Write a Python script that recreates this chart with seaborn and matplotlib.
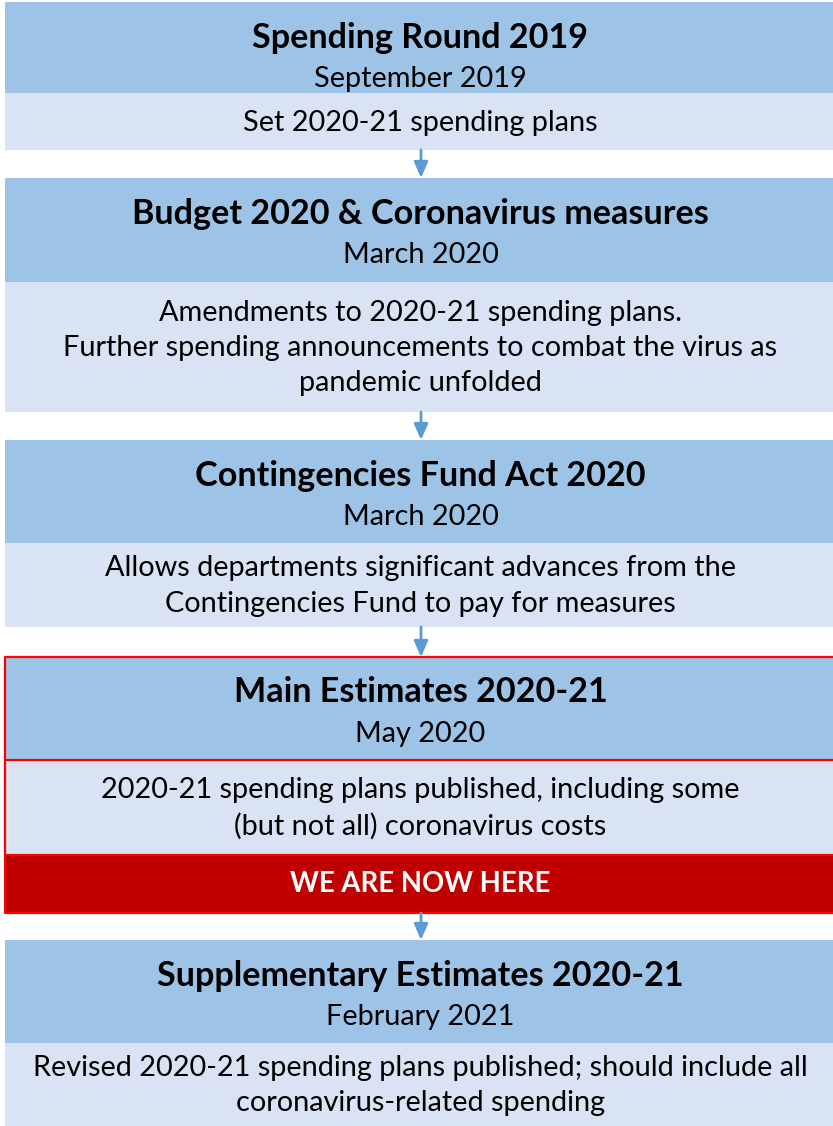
import matplotlib
matplotlib.use("Agg")
import matplotlib.pyplot as plt
from matplotlib.patches import Rectangle
import seaborn as sns

sns.set_theme(style="white")
plt.rcParams["font.family"] = ["Lato", "DejaVu Sans"]

# flowchart content
titles = ["Spending Round 2019", "Budget 2020 & Coronavirus measures",
          "Contingencies Fund Act 2020", "Main Estimates 2020-21",
          "Supplementary Estimates 2020-21"]
dates = ["September 2019", "March 2020", "March 2020", "May 2020", "February 2021"]
details = ["Set 2020-21 spending plans",
           "Amendments to 2020-21 spending plans.\nFurther spending announcements to combat the virus as\npandemic unfolded",
           "Allows departments significant advances from the\nContingencies Fund to pay for measures",
           "2020-21 spending plans published, including some\n(but not all) coronavirus costs",
           "Revised 2020-21 spending plans published; should include all\ncoronavirus-related spending"]
banner_text = "WE ARE NOW HERE"
current_step = 3

# layout in pixels (top, header bottom, body bottom)
W, H = 833, 1126
tops = [2, 178, 440, 657, 940]
mids = [93, 282, 543, 760, 1043]
bots = [150, 412, 627, 855, 1126]
banner_bot = 913
x0, x1 = 5, 840

head_col = "#9DC3E6"
body_col = "#DAE3F3"
arrow_col = "#5B9BD5"

fig = plt.figure(figsize=(W / 100, H / 100), dpi=100)
ax = fig.add_axes([0, 0, 1, 1])
ax.set_xlim(0, W)
ax.set_ylim(H, 0)
ax.axis("off")

cx = (x0 + 836) / 2
for i in range(len(titles)):
    ax.add_patch(Rectangle((x0, tops[i]), x1 - x0, mids[i] - tops[i], color=head_col, lw=0))
    ax.add_patch(Rectangle((x0, mids[i]), x1 - x0, bots[i] - mids[i], color=body_col, lw=0))
    ax.text(cx, tops[i] + 35.5, titles[i], ha="center", va="center",
            fontsize=24.6, fontweight="bold", color="black")
    ax.text(cx, tops[i] + 77, dates[i], ha="center", va="center",
            fontsize=20.8, color="black")
    ax.text(cx, (mids[i] + bots[i]) / 2 + 1, details[i], ha="center", va="center",
            fontsize=20.8, color="black", linespacing=1.45)
    if i < len(titles) - 1:
        start = banner_bot if i == current_step else bots[i]
        ax.annotate("", xy=(421, tops[i + 1]), xytext=(421, start),
                    arrowprops=dict(arrowstyle="-|>,head_width=0.35,head_length=0.8",
                                    color=arrow_col, lw=2, shrinkA=0, shrinkB=0))

# current stage highlight
i = current_step
ax.add_patch(Rectangle((x0, bots[i]), x1 - x0, banner_bot - bots[i], color="#C00000", lw=0))
ax.text(cx, (bots[i] + banner_bot) / 2, banner_text, ha="center", va="center",
        fontsize=19.8, fontweight="bold", color="white")
ax.plot([W, x0, x0, W], [tops[i], tops[i], banner_bot, banner_bot], color="#FF0000", lw=1.6)
for y in (mids[i], bots[i]):
    ax.plot([x0, W], [y, y], color="#FF0000", lw=1.6)

fig.savefig("out.png", dpi=100)
